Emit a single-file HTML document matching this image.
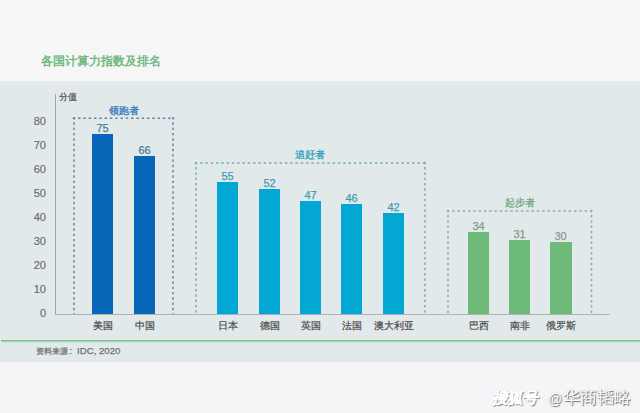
<!DOCTYPE html>
<html><head><meta charset="utf-8">
<style>
*{margin:0;padding:0;box-sizing:border-box}
html,body{width:640px;height:413px;overflow:hidden;background:#f4f5f7;font-family:"Liberation Sans",sans-serif}
#top{position:absolute;left:0;top:0;width:640px;height:81px;background:#f6f6f6}
#band{position:absolute;left:0;top:81px;width:640px;height:1px;background:#ebe9ea}
#chart{position:absolute;left:0;top:82px;width:640px;height:280px;background:#e2e9eb}
#ov{position:absolute;left:0;top:0}
#title{position:absolute;left:41px;top:52px;font-size:12.2px;line-height:18px;color:#6db880;font-weight:400;-webkit-text-stroke:0.45px currentColor;white-space:nowrap}
#yaxis{position:absolute;left:55px;top:94px;width:1px;height:220px;background:#a2a7a9}
#xaxis{position:absolute;left:55px;top:314px;width:555px;height:1px;background:#aeb2b4}
#unit{position:absolute;left:59px;top:90px;font-size:9.2px;line-height:14px;color:#4a4a4a;-webkit-text-stroke:0.2px currentColor;white-space:nowrap}
.tick{position:absolute;left:16px;width:30px;text-align:right;font-size:11px;line-height:14px;color:#6a6a6a;-webkit-text-stroke:0.15px currentColor}
.bar{position:absolute;width:21px}
.val{position:absolute;width:51px;text-align:center;font-size:11px;line-height:14px;-webkit-text-stroke:0.25px currentColor}
.xl{position:absolute;width:61px;text-align:center;font-size:9.5px;line-height:14px;color:#4a4a4a;white-space:nowrap;-webkit-text-stroke:0.2px currentColor}
.glab{position:absolute;text-align:center;font-size:9.6px;line-height:12px;font-weight:400;-webkit-text-stroke:0.35px currentColor;white-space:nowrap}
#gline{position:absolute;left:1px;top:340px;width:639px;height:3px;background:linear-gradient(#8db89a 0,#8db89a 1px,#a6d9b0 1px,#a6d9b0 2px,#d0e8d6 2px)}
#src{position:absolute;left:36px;top:344px;font-size:9.4px;line-height:14px;color:#707070;white-space:nowrap;-webkit-text-stroke:0.25px currentColor}
.wm{position:absolute;line-height:20px;color:#fff;white-space:nowrap;text-shadow:1px 1px 1px rgba(0,0,0,.55),0 0 1px rgba(0,0,0,.25)}
</style></head><body>
<div id="top"></div>
<div id="band"></div>
<div id="chart"></div>
<div id="title">各国计算力指数及排名</div>
<div id="unit">分值</div>
<div id="yaxis"></div>
<div id="xaxis"></div>
<div class="tick" style="top:306px">0</div><div class="tick" style="top:282px">10</div><div class="tick" style="top:258px">20</div><div class="tick" style="top:234px">30</div><div class="tick" style="top:210px">40</div><div class="tick" style="top:186px">50</div><div class="tick" style="top:162px">60</div><div class="tick" style="top:138px">70</div><div class="tick" style="top:114px">80</div>
<div class="glab" style="left:94px;top:105px;width:59px;color:#3b7fbb">领跑者</div>
<div class="glab" style="left:280px;top:149px;width:59px;color:#35a3bc">追赶者</div>
<div class="glab" style="left:490px;top:197px;width:59px;color:#7aab86">起步者</div>
<div class="bar" style="left:92px;top:134px;height:180px;background:#0866b8"></div><div class="val" style="left:77px;top:121px;color:#4d7d93">75</div><div class="xl" style="left:72px;top:319px">美国</div><div class="bar" style="left:134px;top:156px;height:158px;background:#0866b8"></div><div class="val" style="left:119px;top:143px;color:#4d7d93">66</div><div class="xl" style="left:114px;top:319px">中国</div><div class="bar" style="left:217px;top:182px;height:132px;background:#02a7d3"></div><div class="val" style="left:202px;top:169px;color:#3f9cb8">55</div><div class="xl" style="left:197px;top:319px">日本</div><div class="bar" style="left:259px;top:189px;height:125px;background:#02a7d3"></div><div class="val" style="left:244px;top:176px;color:#3f9cb8">52</div><div class="xl" style="left:239px;top:319px">德国</div><div class="bar" style="left:300px;top:201px;height:113px;background:#02a7d3"></div><div class="val" style="left:285px;top:188px;color:#3f9cb8">47</div><div class="xl" style="left:280px;top:319px">英国</div><div class="bar" style="left:341px;top:204px;height:110px;background:#02a7d3"></div><div class="val" style="left:326px;top:191px;color:#3f9cb8">46</div><div class="xl" style="left:321px;top:319px">法国</div><div class="bar" style="left:383px;top:213px;height:101px;background:#02a7d3"></div><div class="val" style="left:368px;top:200px;color:#3f9cb8">42</div><div class="xl" style="left:363px;top:319px">澳大利亚</div><div class="bar" style="left:468px;top:232px;height:82px;background:#6dba79"></div><div class="val" style="left:453px;top:219px;color:#809d87">34</div><div class="xl" style="left:448px;top:319px">巴西</div><div class="bar" style="left:509px;top:240px;height:74px;background:#6dba79"></div><div class="val" style="left:494px;top:227px;color:#809d87">31</div><div class="xl" style="left:489px;top:319px">南非</div><div class="bar" style="left:550px;top:242px;height:72px;background:#6dba79;width:22px"></div><div class="val" style="left:535px;top:229px;color:#809d87">30</div><div class="xl" style="left:530px;top:319px">俄罗斯</div>
<svg id="ov" width="640" height="413" viewBox="0 0 640 413"><g fill="none" stroke-width="1.5" stroke-dasharray="2.4 2.9"><path d="M72.8 118.25 H174.2" stroke="#5c84a8" /><path d="M74 117.05 V314" stroke="#5c84a8" /><path d="M173 117.05 V314" stroke="#5c84a8" /><path d="M194.8 163 H426.2" stroke="#74a9b6" /><path d="M196 161.8 V314" stroke="#74a9b6" /><path d="M425 161.8 V314" stroke="#74a9b6" /><path d="M446.8 211 H592.7" stroke="#98a69d" /><path d="M448 209.8 V314" stroke="#98a69d" /><path d="M591.5 209.8 V314" stroke="#98a69d" /></g></svg>
<div id="gline"></div>
<div id="src"><span style="font-size:8.4px">资料来源</span><span style="margin-left:1.5px">:</span><span style="margin-left:5px;font-size:9.6px">IDC, 2020</span></div>
<div class="wm" style="left:492px;top:388px;font-size:15.5px;font-weight:700;font-style:italic;letter-spacing:-0.8px;-webkit-text-stroke:0.4px #fff">搜狐号</div><div class="wm" style="left:548px;top:389px;font-size:14px">@</div><div class="wm" style="left:563px;top:388px;font-size:17px">华商韬略</div>
</body></html>
